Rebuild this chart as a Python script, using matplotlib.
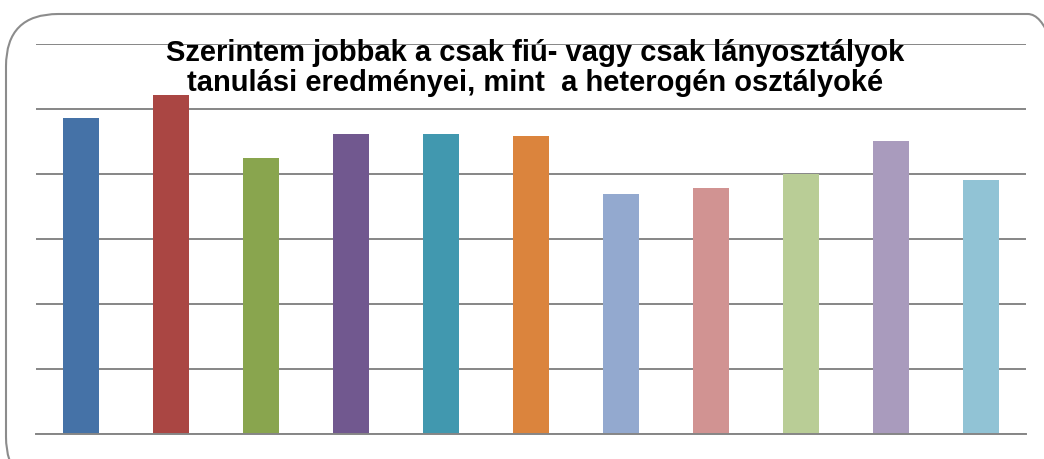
import matplotlib
matplotlib.use("Agg")
import matplotlib.pyplot as plt
from matplotlib.patches import FancyBboxPatch

categories = [f"C{i+1}" for i in range(11)]
values = [4.86, 5.22, 4.25, 4.62, 4.62, 4.58, 3.69, 3.78, 4.00, 4.51, 3.91]
colors = ["#4572A7", "#AA4643", "#89A54E", "#71588F", "#4198AF", "#DB843D",
          "#93A9CF", "#D19392", "#B9CD96", "#A99BBD", "#91C3D5"]
title = "Szerintem jobbak a csak fiú- vagy csak lányosztályok\ntanulási eredményei, mint  a heterogén osztályoké"

W, H = 1044, 460
fig = plt.figure(figsize=(W/100, H/100), dpi=100)

border = FancyBboxPatch((6/W, -30/H), (1080-6)/W, (445+30)/H,
                        boxstyle="round,pad=0,rounding_size=0.05",
                        transform=fig.transFigure, fill=False,
                        edgecolor="#8c8c8c", linewidth=1.5, mutation_aspect=W/H)
fig.patches.append(border)

ax = fig.add_axes([36/W, 25/H, (1026-36)/W, (435-45)/H])
x = range(len(categories))
ax.bar(x, values, width=0.41, color=colors, zorder=3)
ax.set_xlim(-0.5, len(categories)-0.5)
ax.set_ylim(0, 6)
ax.set_yticks(range(0, 7))
ax.yaxis.grid(True, color="#868686", linewidth=1.4, zorder=0)
ax.set_axisbelow(True)
ax.tick_params(left=False, bottom=False, labelleft=False, labelbottom=False)
for s in ["left", "right", "top"]:
    ax.spines[s].set_visible(False)
ax.spines["bottom"].set_color("#868686")
ax.spines["bottom"].set_linewidth(1.4)
ax.spines["bottom"].set_zorder(4)

fig.text(535/W, 1-68/H, title, ha="center", va="center", fontsize=21,
         fontweight="bold", family="Liberation Sans", linespacing=1.08, zorder=10)

fig.savefig("out.png", dpi=100)
